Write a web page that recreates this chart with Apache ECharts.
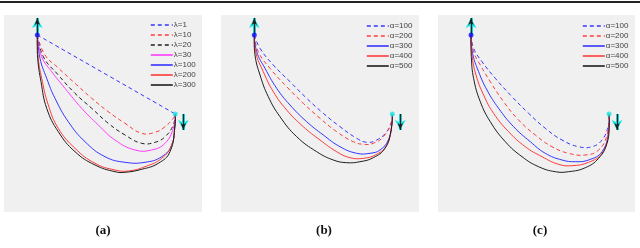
<!DOCTYPE html>
<html>
<head>
<meta charset="utf-8">
<script src="https://cdn.jsdelivr.net/npm/echarts@6/dist/echarts.min.js"></script>
<style>
html,body{margin:0;padding:0;background:#fff;}
#rule{position:absolute;left:0;top:1px;width:640px;height:2px;background:#222;}
#chart{position:absolute;left:0;top:0;width:640px;height:248px;}
</style>
</head>
<body>
<div id="rule"></div>
<div id="chart"></div>
<script>
// ---- data (x, depth) relative to start point ----
const a_lam1   = [[0,0],[138,79]];
const a_lam10  = [[0,0],[7.7,20],[21,33],[37.7,48.3],[54.4,63.3],[71,76.7],[87.7,88.3],[104.4,98.3],[117.7,97.3],[127.7,91.7],[136,83.3],[138,79]];
const a_lam20  = [[0,0],[6,21.7],[21,40],[37.7,58.3],[54.4,73.3],[71,88.3],[87.7,100],[104.4,108.3],[117.7,107.3],[127.7,101.7],[136,90],[138,79]];
const a_lam30  = [[0,0],[4.4,21.7],[14.4,36.7],[27.7,53.3],[44.4,73.3],[61,90],[77.7,105],[97.7,115],[114.4,115],[127.7,108.3],[136,93.3],[138,79]];
const a_lam100 = [[0,0],[2.7,23.3],[9.4,43.3],[17.7,63.3],[31,86.7],[47.7,106.7],[67.7,121.7],[87.7,127.3],[107.7,127.3],[124.4,121.7],[134.4,110],[137.7,90],[138,79]];
const a_lam200 = [[0,0],[1,23.3],[4.4,43.3],[11,70],[21,93.3],[37.7,113.3],[57.7,128.3],[77.7,135],[91,136],[107.7,131.7],[124.4,123.3],[134.4,110],[137.7,90],[138,79]];
const a_lam300 = [[0,0],[0.4,23.3],[3.7,46.7],[9.4,73.3],[21,96.7],[37.7,116.7],[57.7,130],[77.7,136.7],[87.7,137.3],[104.4,134.3],[121,128.3],[132.7,116.7],[137.7,90],[138,79]];

const b_a100 = [[0,0],[5.7,13.3],[19,30],[35.7,46.7],[52.4,63.3],[69,78.3],[85.7,91.7],[102.4,103.3],[112.4,107.3],[122.4,105],[132.4,96.7],[137.5,86],[138,79]];
const b_a200 = [[0,0],[4,16.7],[15.7,33.3],[32.4,51.7],[49,68.3],[65.7,83.3],[82.4,96.7],[99,106.7],[109,109.3],[119,108.3],[129,101.7],[137.4,86.7],[138,79]];
const b_a300 = [[0,0],[2.4,16.7],[10.7,33.3],[22.4,53.3],[35.7,70],[52.4,86.7],[69,100],[85.7,111.7],[102.4,118.3],[115.7,118.3],[125.7,115],[134,105],[137.8,88],[138,79]];
const b_a400 = [[0,0],[1.7,18.3],[9,36.7],[19,56.7],[32.4,75],[49,91.7],[65.7,105],[82.4,116.7],[95.7,122.7],[109,123.3],[122.4,119.3],[132.4,110],[137.5,90],[138,79]];
const b_a500 = [[0,0],[0.7,20],[5.7,40],[14,61.7],[25.7,81.7],[42.4,101.7],[62.4,116.7],[79,125],[92.4,127.7],[105.7,126.7],[119,122.7],[130.7,113.3],[136.5,97],[138,79]];

const c_a100 = [[0,0],[2.6,13.3],[11,26.7],[24.3,43.3],[41,61.7],[57.6,78.3],[74.3,93.3],[91,105],[107.6,111.7],[121,111.7],[131,105],[137.6,90],[138,79]];
const c_a200 = [[0,0],[2.6,16.7],[9.3,30],[19.3,46.7],[32.6,66.7],[47.6,85],[64.3,100],[81,111.7],[97.6,118.3],[114.3,120],[127.6,115],[136,100],[138,79]];
const c_a300 = [[0,0],[1.6,18.3],[7.6,36.7],[16,55],[27.6,73.3],[42.6,91.7],[59.3,106.7],[74.3,118.3],[91,125],[104.3,126.7],[117.6,125],[131,116.7],[137.6,96.7],[138,79]];
const c_a400 = [[0,0],[1,20],[5,40],[12.6,60],[22.6,78.3],[37.6,96.7],[54.3,111.7],[71,121.7],[87.6,129.3],[101,130.7],[117.6,127.3],[131,118.3],[137.6,98.3],[138,79]];
const c_a500 = [[0,0],[0.3,21.7],[2.6,43.3],[9.3,66.7],[19.3,86.7],[34.3,106.7],[51,121.7],[67.6,131.7],[84.3,136.7],[97.6,136.7],[114.3,132.7],[127.6,123.3],[136,108.3],[138.2,90],[138,79]];

const startPoint = [0,0];
const endPoint = [138,79];
const startArrow = [[0,0],[0,-17]];
const endArrow = [[146,79],[146,95]];

const lambdaNames = ['λ=1','λ=10','λ=20','λ=30','λ=100','λ=200','λ=300'];
const alphaNames = ['α=100','α=200','α=300','α=400','α=500'];
const panelLabels = ['(a)','(b)','(c)'];

// ---- styles ----
const BLUE='#3535ff', RED='#ff3a3a', BLACK='#1e1e1e', MAG='#ff3cff', CYAN='#19e3e3';
const DASH=[4,3];
const lamStyles = [
  {c:BLUE,t:DASH},{c:RED,t:DASH},{c:BLACK,t:DASH},{c:MAG,t:'solid'},{c:BLUE,t:'solid'},{c:RED,t:'solid'},{c:BLACK,t:'solid'}
];
const alpStyles = [
  {c:BLUE,t:DASH},{c:RED,t:DASH},{c:BLUE,t:'solid'},{c:RED,t:'solid'},{c:BLACK,t:'solid'}
];

const grids = [
  {left:4, top:15, width:198, height:197, xmin:-33.3, xmax:164.7},
  {left:221, top:15, width:198, height:197, xmin:-33.3, xmax:164.7},
  {left:438, top:15, width:197, height:197, xmin:-33, xmax:164}
];

// smooth curve drawn through the data points (points mapped via the axes)
function curve(data, st, gi){
  return {type:'custom', coordinateSystem:'cartesian2d', xAxisIndex:gi, yAxisIndex:gi,
    data:data, encode:{x:0,y:1}, silent:true, animation:false, clip:false, z:3,
    renderItem:function(params, api){
      if (params.dataIndexInside !== 0) return null;
      const n = params.dataInsideLength, pts = [];
      for (let i=0;i<n;i++) pts.push(api.coord([api.value(0,i), api.value(1,i)]));
      return {type:'polyline', silent:true,
        shape:{points:pts, smooth:0.45},
        style:{stroke:st.c, lineWidth:1, fill:null, lineDash: st.t==='solid'?null:st.t}};
    }};
}
// legend-only entries
function legendEntry(name, st, gi){
  return {type:'line', name:name, data:[], xAxisIndex:gi, yAxisIndex:gi, symbol:'none',
    lineStyle:{color:st.c, width:1, type:st.t}, itemStyle:{color:st.c}, silent:true, animation:false};
}
function markers(gi){
  const arrow = (pts, col, w, size, z)=>({
    type:'line', data:[], xAxisIndex:gi, yAxisIndex:gi, silent:true, animation:false, z:z,
    markLine:{silent:true, animation:false, symbol:['none','arrow'], symbolSize:size,
      label:{show:false}, lineStyle:{color:col, width:w, type:'solid'},
      emphasis:{disabled:true},
      data:[[{coord:pts[0]},{coord:pts[1]}]]}
  });
  return [
    arrow(startArrow, CYAN, 3, [8,10], 5),
    arrow(startArrow, BLACK, 1.2, [4,7], 6),
    arrow(endArrow, CYAN, 3, [8,10], 5),
    arrow(endArrow, BLACK, 1.2, [4,7], 6),
    {type:'scatter', data:[startPoint], xAxisIndex:gi, yAxisIndex:gi, symbolSize:5, silent:true, animation:false,
      itemStyle:{color:'#1010ff'}, z:7},
    {type:'scatter', data:[endPoint], xAxisIndex:gi, yAxisIndex:gi, symbolSize:5, silent:true, animation:false,
      itemStyle:{color:CYAN}, z:7}
  ];
}

const series = [];
const aData=[a_lam1,a_lam10,a_lam20,a_lam30,a_lam100,a_lam200,a_lam300];
aData.forEach((d,i)=>{ series.push(legendEntry(lambdaNames[i], lamStyles[i], 0)); series.push(curve(d, lamStyles[i], 0)); });
const bData=[b_a100,b_a200,b_a300,b_a400,b_a500];
bData.forEach((d,i)=>{ series.push(legendEntry(alphaNames[i], alpStyles[i], 1)); series.push(curve(d, alpStyles[i], 1)); });
const cData=[c_a100,c_a200,c_a300,c_a400,c_a500];
cData.forEach((d,i)=>series.push(curve(d, alpStyles[i], 2)));
[0,1,2].forEach(gi=>markers(gi).forEach(s=>series.push(s)));

const legendBase = {orient:'vertical', itemWidth:22, itemHeight:8, itemGap:2, selectedMode:false,
  textStyle:{fontFamily:'Liberation Sans', fontSize:8, color:'#444', lineHeight:8, padding:[0,0,0,-4]},
  itemStyle:{opacity:0}, lineStyle:{width:1.6}, padding:0};

const option = {
  animation:false,
  backgroundColor:'transparent',
  title: panelLabels.map((t,i)=>({text:t, left:[98,319,535][i], top:219, textAlign:'center',
    textStyle:{fontFamily:'Liberation Serif', fontWeight:'bold', fontSize:13, color:'#111'}})),
  grid: grids.map(g=>({left:g.left, top:g.top, width:g.width, height:g.height, show:true,
    backgroundColor:'#f0f0f0', borderWidth:0, containLabel:false})),
  xAxis: grids.map((g,i)=>({type:'value', gridIndex:i, min:g.xmin, max:g.xmax, show:false})),
  yAxis: grids.map((g,i)=>({type:'value', gridIndex:i, min:-20, max:177, inverse:true, show:false})),
  legend: [
    Object.assign({}, legendBase, {left:150, top:21, data:lambdaNames}),
    Object.assign({}, legendBase, {left:366, top:22, data:alphaNames}),
    Object.assign({}, legendBase, {left:582, top:22, data:alphaNames})
  ],
  series: series
};
const chart = echarts.init(document.getElementById('chart'), null, {renderer:'canvas'});
chart.setOption(option);
</script>
</body>
</html>
